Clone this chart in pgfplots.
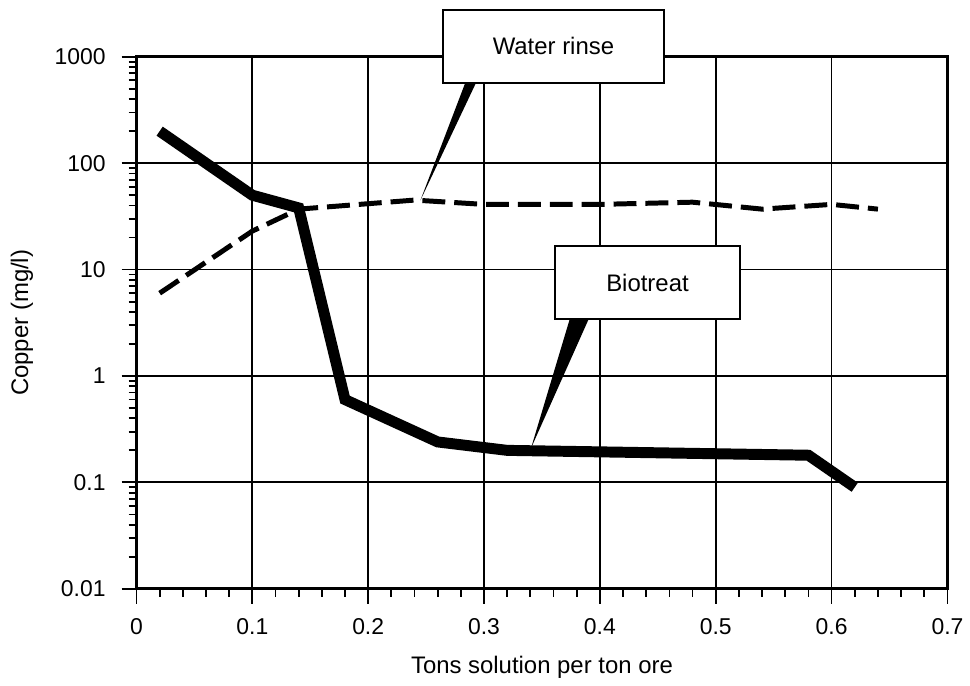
\documentclass[border=0pt]{standalone}
\usepackage{fontspec}
\setmainfont{Liberation Sans}
\usepackage{pgfplots}
\pgfplotsset{compat=1.18}

\begin{document}
\begin{tikzpicture}
  \begin{axis}[
    ymode=log,
    width=407pt,
    height=267pt,
    scale only axis,
    xmin=0, xmax=0.7,
    ymin=0.01, ymax=1000,
    clip=false,
    xtick={0,0.1,0.2,0.3,0.4,0.5,0.6,0.7},
    xticklabels={0,0.1,0.2,0.3,0.4,0.5,0.6,0.7},
    ytick={0.01,0.1,1,10,100,1000},
    yticklabels={0.01,0.1,1,10,100,1000},
    minor x tick num=4,
    tick pos=left,
    tick align=outside,
    major tick length=7.5pt,
    minor tick length=4pt,
    tick style={black, line width=0.9pt},
    xmajorgrids=true,
    ymajorgrids=true,
    grid style={black, line width=0.9pt},
    axis line style={black, line width=1.4pt},
    /pgf/number format/assume math mode=true,
    ticklabel style={font=\fontsize{11.5}{13}\selectfont},
    yticklabel style={xshift=-4.5pt},
    xticklabel style={yshift=-4pt},
    xlabel={Tons solution per ton ore},
    ylabel={Copper (mg/l)},
    every axis x label/.style={at={(axis description cs:0.5,-0.148)}, anchor=center,
      font=\fontsize{12}{14}\selectfont},
    every axis y label/.style={at={(axis description cs:-0.1413,0.5)}, rotate=90, anchor=center,
      font=\fontsize{12}{14}\selectfont},
  ]
  % page extent (970 x 688 px at 0.5pt per px)
  \path (axis cs:-0.11781,0.0012355) rectangle (axis cs:0.71633,3418);

  % Water rinse
  \addplot[black, line width=2.5pt, dash pattern=on 11.5pt off 4.5pt] coordinates {
    (0.02,6) (0.1,23) (0.14,37) (0.24,45) (0.3,41) (0.4,41)
    (0.48,43) (0.54,37) (0.6,41) (0.64,37)
  };
  % Biotreat
  \addplot[black, line width=5.5pt] coordinates {
    (0.02,200) (0.1,50) (0.14,38) (0.18,0.6) (0.26,0.24)
    (0.32,0.2) (0.58,0.18) (0.62,0.09)
  };

  % callouts
  \fill[black] (axis cs:0.2881,755) -- (axis cs:0.2984,755) -- (axis cs:0.2451,44.8) -- cycle;
  \node[draw=black, line width=1pt, fill=white, minimum width=110.5pt, minimum height=36.5pt,
        inner sep=0pt, font=\fontsize{12}{14}\selectfont] at (axis cs:0.3599,1254) {Water rinse};
  \fill[black] (axis cs:0.3792,5.30) -- (axis cs:0.3981,5.30) -- (axis cs:0.3405,0.209) -- cycle;
  \node[draw=black, line width=1pt, fill=white, minimum width=93pt, minimum height=36.5pt,
        inner sep=0pt, font=\fontsize{12}{14}\selectfont] at (axis cs:0.4411,7.57) {Biotreat};
  \end{axis}
\end{tikzpicture}
\end{document}
